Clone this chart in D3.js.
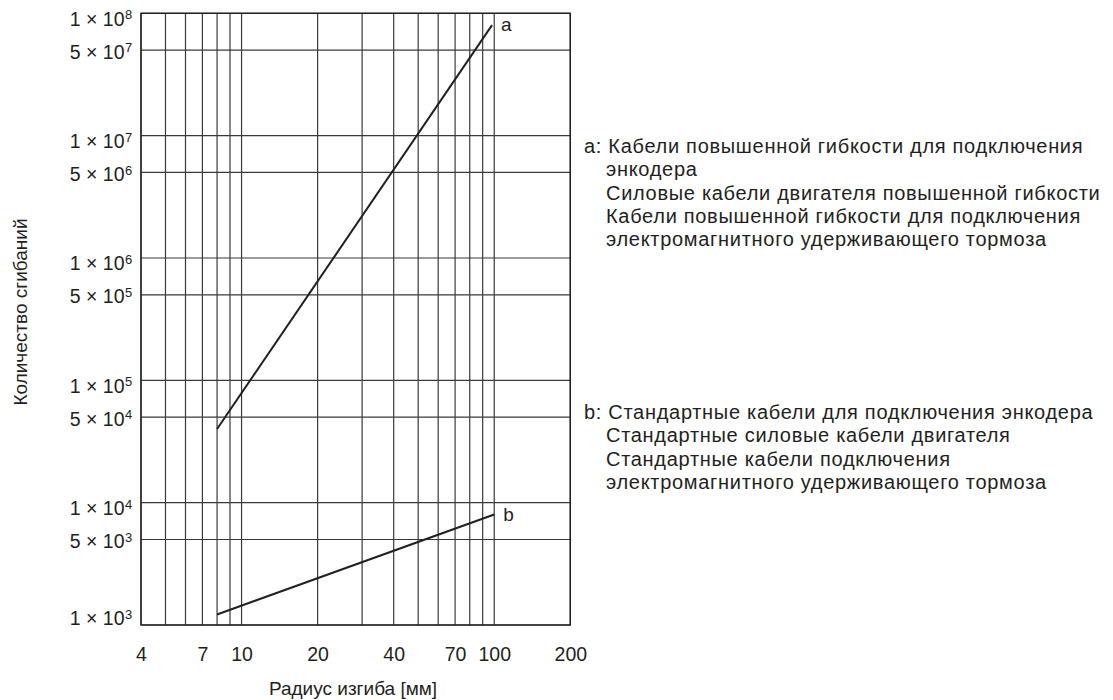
<!DOCTYPE html>
<html>
<head>
<meta charset="utf-8">
<script src="https://cdn.jsdelivr.net/npm/d3@7"></script>
<style>
  html, body { margin: 0; padding: 0; background: #fff; }
  svg { display: block; font-family: "Liberation Sans", Arial, sans-serif; }
</style>
</head>
<body>
<svg id="chart" width="1113" height="700"></svg>
<script>
// ---- data ----
const xTickValues = [4, 7, 10, 20, 40, 70, 100, 200];
const xGridValues = [4, 5, 6, 7, 8, 9, 10, 20, 30, 40, 50, 60, 70, 80, 90, 100, 200];
const yTickValues = [1e3, 5e3, 1e4, 5e4, 1e5, 5e5, 1e6, 5e6, 1e7, 5e7, 1e8];
const seriesA = [[8, 40000], [98, 80000000]];
const seriesB = [[8, 1220], [100, 8000]];
const seriesNames = ["a", "b"];
const legendA = [
  "a: Кабели повышенной гибкости для подключения",
  "энкодера",
  "Силовые кабели двигателя повышенной гибкости",
  "Кабели повышенной гибкости для подключения",
  "электромагнитного удерживающего тормоза"
];
const legendB = [
  "b: Стандартные кабели для подключения энкодера",
  "Стандартные силовые кабели двигателя",
  "Стандартные кабели подключения",
  "электромагнитного удерживающего тормоза"
];
const xTitle = "Радиус изгиба [мм]";
const yTitle = "Количество сгибаний";

// ---- layout ----
const svg = d3.select("#chart");
const pL = 141, pR = 570.3, pT = 13.3, pB = 625;
const x = d3.scaleLog().domain([4, 200]).range([pL, pR]);
const y = d3.scaleLog().domain([1e3, 1e8]).range([pB, pT]);
const ink = "#231f20";
const gridColor = "#3a3a3a";

// grid
const g = svg.append("g");
g.selectAll("line.vx").data(xGridValues).enter().append("line")
  .attr("x1", d => x(d)).attr("x2", d => x(d))
  .attr("y1", pT).attr("y2", pB)
  .attr("stroke", gridColor).attr("stroke-width", 1.2);
g.selectAll("line.hy").data(yTickValues).enter().append("line")
  .attr("x1", pL).attr("x2", pR)
  .attr("y1", d => y(d)).attr("y2", d => y(d))
  .attr("stroke", gridColor).attr("stroke-width", 1.2);
// frame
g.append("rect").attr("x", pL).attr("y", pT)
  .attr("width", pR - pL).attr("height", pB - pT)
  .attr("fill", "none").attr("stroke", ink).attr("stroke-width", 1.4);

// x axis labels
const xAxis = d3.axisBottom(x).tickValues(xTickValues).tickFormat(d3.format("d")).tickSize(0).tickPadding(0);
const xa = svg.append("g").attr("transform", `translate(0,${pB})`).call(xAxis);
xa.select(".domain").remove();
xa.selectAll("text").attr("dy", null).attr("y", 35.7)
  .style("font-size", "19.5px").attr("fill", ink).style("font-family", '"Liberation Sans", Arial, sans-serif');

// y axis labels (1 × 10^n)
const yl = svg.append("g");
yTickValues.forEach((v, i) => {
  const e = Math.floor(Math.log10(v) + 1e-9);
  const m = Math.round(v / Math.pow(10, e));
  let off = m === 1 ? 12.5 : 8.5;
  if (i === 0) off = 0;
  yl.append("text")
    .attr("x", 124.5).attr("y", y(v) + off)
    .attr("text-anchor", "end")
    .style("font-size", "19.5px").attr("fill", ink)
    .text(`${m} × 10`);
  yl.append("text")
    .attr("x", 125).attr("y", y(v) + off - 6.4)
    .style("font-size", "13px").attr("fill", ink)
    .text(e);
});

// series
const line = d3.line().x(d => x(d[0])).y(d => y(d[1]));
[seriesA, seriesB].forEach((s, i) => {
  svg.append("path").datum(s).attr("d", line)
    .attr("fill", "none").attr("stroke", ink).attr("stroke-width", 2);
  const last = s[s.length - 1];
  svg.append("text")
    .attr("x", x(last[0]) + 9).attr("y", y(last[1]) + 6)
    .style("font-size", "19px").attr("fill", ink)
    .text(seriesNames[i]);
});

// titles
svg.append("text").attr("x", 353).attr("y", 695).attr("text-anchor", "middle")
  .style("font-size", "19px").attr("fill", ink).text(xTitle);
svg.append("text").attr("transform", "translate(26.7,312) rotate(-90)")
  .attr("text-anchor", "middle")
  .style("font-size", "19px").attr("fill", ink).text(yTitle);

// legend
function legend(lines, x0, y0, dyLine) {
  lines.forEach((s, i) => {
    svg.append("text")
      .attr("x", i === 0 ? x0 : x0 + 22).attr("y", y0 + i * dyLine)
      .style("font-size", "20px").style("letter-spacing", "0.7px").attr("fill", ink)
      .text(s);
  });
}
legend(legendA, 584, 153, 23.3);
legend(legendB, 584, 419, 23.3);
</script>
</body>
</html>
